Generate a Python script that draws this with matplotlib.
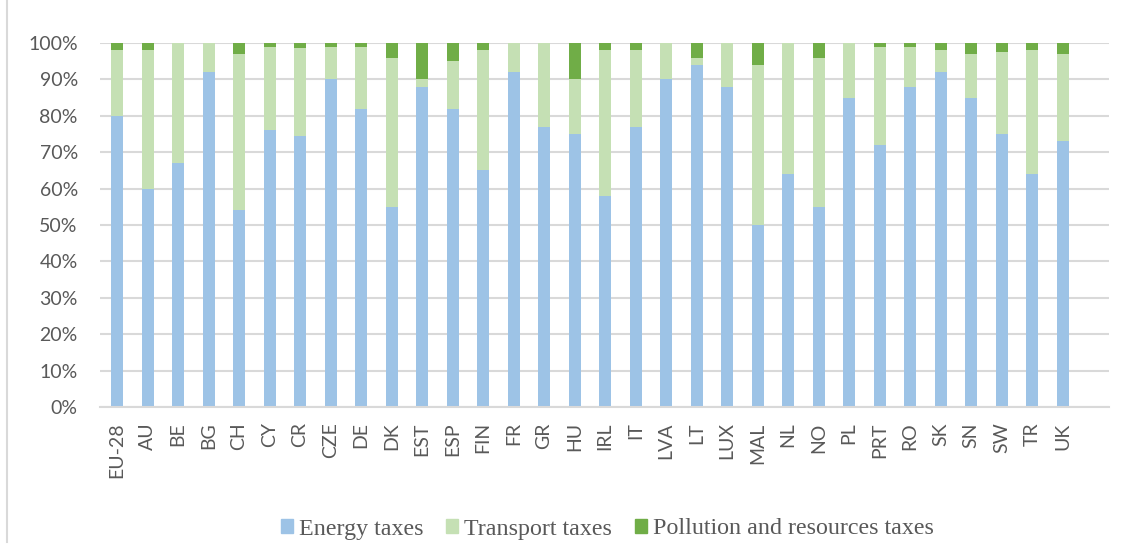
import matplotlib.pyplot as plt
import numpy as np
from matplotlib.patches import Patch
from matplotlib.lines import Line2D
from matplotlib.ticker import PercentFormatter

countries = ['EU-28', 'AU', 'BE', 'BG', 'CH', 'CY', 'CR', 'CZE', 'DE', 'DK', 'EST',
             'ESP', 'FIN', 'FR', 'GR', 'HU', 'IRL', 'IT', 'LVA', 'LT', 'LUX', 'MAL',
             'NL', 'NO', 'PL', 'PRT', 'RO', 'SK', 'SN', 'SW', 'TR', 'UK']
energy = [80, 60, 67, 92, 54, 76, 74.5, 90, 82, 55, 88,
          82, 65, 92, 77, 75, 58, 77, 90, 94, 88, 50,
          64, 55, 85, 72, 88, 92, 85, 75, 64, 73]
transport = [18, 38, 33, 8, 43, 23, 24, 9, 17, 41, 2,
             13, 33, 8, 23, 15, 40, 21, 10, 2, 12, 44,
             36, 41, 15, 27, 11, 6, 12, 22.5, 34, 24]
pollution = [2, 2, 0, 0, 3, 1, 1.5, 1, 1, 4, 10,
             5, 2, 0, 0, 10, 2, 2, 0, 4, 0, 6,
             0, 4, 0, 1, 1, 2, 3, 2.5, 2, 3]

c_energy = '#9DC3E6'
c_transport = '#C5E0B4'
c_pollution = '#70AD47'
grid_c = '#D9D9D9'
text_c = '#595959'

W, H = 1125, 550
fig = plt.figure(figsize=(W / 100, H / 100), dpi=100)
ax = fig.add_axes([100 / W, 1 - 407 / H, (1109 - 100) / W, (407 - 43) / H])

x = np.arange(len(countries))
e = np.array(energy)
t = np.array(transport)
p = np.array(pollution)
bw = 0.39
ax.bar(x, e, bw, color=c_energy, zorder=3)
ax.bar(x, t, bw, bottom=e, color=c_transport, zorder=3)
ax.bar(x, p, bw, bottom=e + t, color=c_pollution, zorder=3)

ax.set_xlim(-0.56, 32.52)
ax.set_ylim(0, 100)
ax.set_yticks(np.arange(0, 101, 10))
ax.yaxis.set_major_formatter(PercentFormatter(decimals=0))
ax.grid(axis='y', color=grid_c, linewidth=1.5, zorder=0)
for s in ['top', 'right', 'left']:
    ax.spines[s].set_visible(False)
ax.spines['bottom'].set_color(grid_c)
ax.spines['bottom'].set_linewidth(1.5)
ax.spines['bottom'].set_zorder(4)

ax.set_xticks(x)
ax.set_xticklabels(countries, rotation=90, family='Lato', fontsize=14, color=text_c)
for lab in ax.get_yticklabels():
    lab.set_family('Lato')
ax.tick_params(axis='y', length=0, pad=16, labelsize=14, labelcolor=text_c)
ax.tick_params(axis='x', length=0, pad=11)

handles = [Patch(color=c_energy), Patch(color=c_transport), Patch(color=c_pollution)]
labels = ['Energy taxes', 'Transport taxes', 'Pollution and resources taxes']
fig.legend(handles, labels, loc='center', bbox_to_anchor=(607 / W, 21 / H), ncol=3,
           frameon=False, prop={'family': 'Liberation Serif', 'size': 17.3},
           labelcolor=text_c, handlelength=0.5, handleheight=0.5,
           handletextpad=0.25, columnspacing=0.95)

# chart frame edge on the left
fig.add_artist(Line2D([7 / W, 7 / W], [8 / H, 1], color=grid_c, linewidth=1.5))

fig.savefig('out.png', dpi=100)
